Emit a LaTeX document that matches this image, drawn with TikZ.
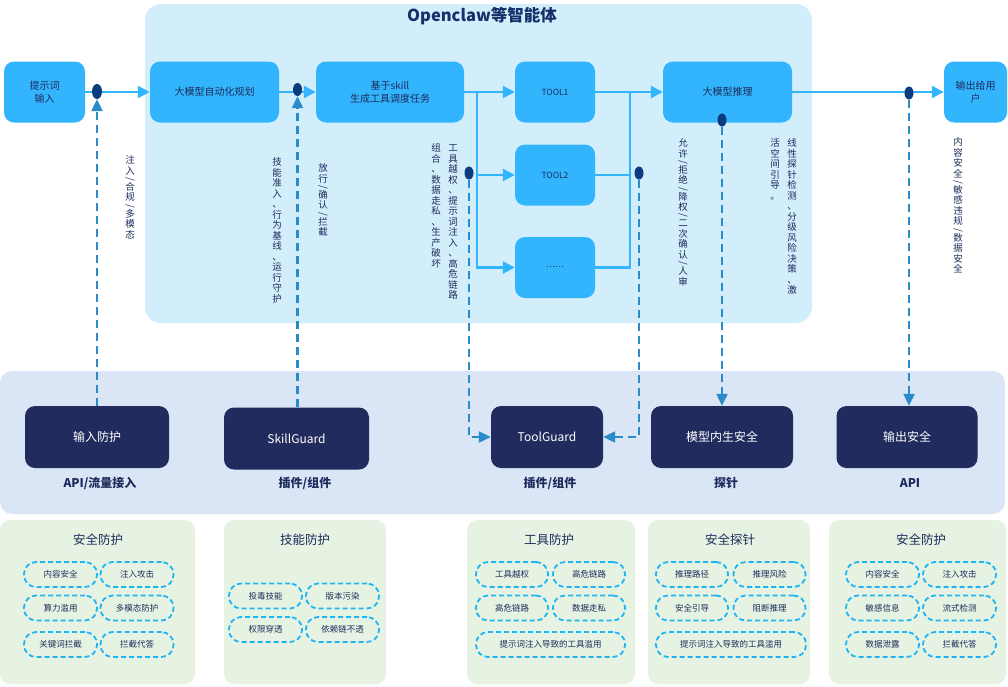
\documentclass[tikz,border=0pt]{standalone}
\usepackage{fontspec}
\setmainfont{Noto Sans CJK SC}
\usetikzlibrary{positioning, shapes.geometric, arrows.meta}

\definecolor{areablue}{HTML}{D3EEFB}
\definecolor{boxblue}{HTML}{33B5FD}
\definecolor{navytext}{HTML}{1C2B5C}
\definecolor{titlenavy}{HTML}{14306B}
\definecolor{dotnavy}{HTML}{0C3B7F}
\definecolor{probeblue}{HTML}{2A8BC9}
\definecolor{bandblue}{HTML}{DAE5F5}
\definecolor{guardnavy}{HTML}{212B5E}
\definecolor{panelgreen}{HTML}{E7F3E2}
\definecolor{pillblue}{HTML}{1FB4F5}

% vertical text, one glyph under the other
\makeatletter
\newcommand{\vsl}{\rotatebox[origin=c]{-90}{/}}
\def\vst@slash{\vsl}
\newcommand{\vstack}[1]{\vbox{\offinterlineskip
  \@tfor\vst@c:=#1\do{%
    \ifx\vst@c\vst@slash
      \hbox to 1em{\hss\vrule width 0pt height 3.5pt depth 1.5pt\raisebox{-2.3pt}{\vsl}\hss}%
    \else
      \hbox to 1em{\hss\vrule width 0pt height 8.3pt depth 2.2pt\vst@c\hss}%
    \fi}}}
\makeatother

\tikzset{
  heading/.style={font=\bfseries\fontsize{16.5}{19}\selectfont, text=titlenavy},
  bluebox/.style={rectangle, rounded corners=10pt, fill=boxblue, text=navytext, align=center,
    inner sep=0pt, font=\fontsize{10}{13}\selectfont},
  guardbox/.style={rectangle, rounded corners=10pt, fill=guardnavy, text=white, inner sep=0pt,
    minimum height=62pt, font=\fontsize{12}{14}\selectfont},
  tag/.style={font=\bfseries\fontsize{12}{14}\selectfont, text=navytext},
  flow/.style={draw=boxblue, line width=2.5pt, -{Triangle[length=12pt, width=12pt]}},
  flowline/.style={draw=boxblue, line width=2.5pt},
  probe/.style={draw=probeblue, line width=2.2pt, dash pattern=on 8pt off 5pt,
    -{Triangle[length=12pt, width=11pt]}},
  dot/.style={ellipse, fill=dotnavy, inner sep=0pt, minimum width=9pt, minimum height=13pt},
  vlab/.style={text=navytext, inner sep=0pt, anchor=north, font=\fontsize{9.5}{10.5}\selectfont},
  paneltitle/.style={text=navytext, font=\fontsize{12.5}{15}\selectfont},
  pill/.style={draw=pillblue, line width=1.8pt, dash pattern=on 5pt off 3pt, rounded corners=12pt,
    minimum height=25pt, inner sep=0pt, text=navytext, font=\fontsize{8.5}{10}\selectfont}
}

\begin{document}
\begin{tikzpicture}[x=1pt, y=-1pt]
\useasboundingbox (0,0) rectangle (1008,686);

% agent area
\fill[areablue, rounded corners=16pt] (145,4) rectangle (812,323);
\node[heading] (title) at (482,16) {Openclaw等智能体};

% guard band
\fill[bandblue, rounded corners=12pt] (0,371) rectangle (1005,514);

% defence panels
\fill[panelgreen, rounded corners=10pt] (0,520) rectangle (195,684);
\fill[panelgreen, rounded corners=10pt] (224,520) rectangle (386,684);
\fill[panelgreen, rounded corners=10pt] (467,520) rectangle (635,684);
\fill[panelgreen, rounded corners=10pt] (648,520) rectangle (810,684);
\fill[panelgreen, rounded corners=10pt] (829,520) rectangle (1006,684);

% main flow
\node[bluebox, minimum width=81pt, minimum height=61pt] (prompt) at (44.5,92) {提示词\\输入};
\node[bluebox, minimum width=129pt, minimum height=61pt] (plan) at (214.5,92) {大模型自动化规划};
\node[bluebox, minimum width=148pt, minimum height=61pt] (skill) at (390,92) {基于skill\\生成工具调度任务};
\node[bluebox, minimum width=80pt, minimum height=61pt, font=\fontsize{8.5}{10}\selectfont] (tool1) at (555,92) {TOOL1};
\node[bluebox, minimum width=80pt, minimum height=61pt, font=\fontsize{8.5}{10}\selectfont] (tool2) at (555,175) {TOOL2};
\node[bluebox, minimum width=80pt, minimum height=61pt, font=\fontsize{8.5}{10}\selectfont] (tool3) at (555,267.5) {……};
\node[bluebox, minimum width=129pt, minimum height=61pt] (infer) at (727.5,92) {大模型推理};
\node[bluebox, minimum width=63pt, minimum height=61pt] (output) at (975.5,92) {输出给用\\户};

% guards
\node[guardbox, minimum width=144pt] (ipguard) at (97,437) {输入防护};
\node[guardbox, minimum width=145pt] (skillguard) at (296.5,438.5) {SkillGuard};
\node[guardbox, minimum width=112pt] (toolguard) at (547,437) {ToolGuard};
\node[guardbox, minimum width=142pt] (modelguard) at (722,437) {模型内生安全};
\node[guardbox, minimum width=141pt] (outguard) at (907,437) {输出安全};

\node[tag] (tagip) at (100,483) {API/流量接入};
\node[tag] (tagskill) at (305,483) {插件/组件};
\node[tag] (tagtool) at (550,483) {插件/组件};
\node[tag] (tagmodel) at (726,483) {探针};
\node[tag] (tagout) at (910,483) {API};

% connectors
\coordinate (split) at (477,92);
\coordinate (join) at (630,92);
\draw[flow] (prompt) -- (plan);
\draw[flow] (plan) -- (skill);
\draw[flow] (skill) -- (tool1);
\draw[flow] (split) |- (tool2);
\draw[flow] (split) |- (tool3);
\draw[flowline] (tool2) -| (join);
\draw[flowline] (tool3) -| (join);
\draw[flow] (tool1) -- (infer);
\draw[flow] (infer) -- (output);

\node[dot, minimum width=10pt, minimum height=15pt] (d1) at (97,91.5) {};
\node[dot] (d2) at (297.5,89.5) {};
\node[dot] (d3) at (469,173) {};
\node[dot] (d4) at (639,173) {};
\node[dot] (d5) at (722,120) {};
\node[dot] (d6) at (909,93) {};

\draw[probe] (ipguard.north -| d1) -- (d1.south);
\draw[probe] (skillguard.north -| d2) -- (d2.south);
\draw[probe] (d3.south) |- (toolguard.west);
\draw[probe] (d4.south) |- (toolguard.east);
\draw[probe] (d5.south) -- (d5.south |- modelguard.north);
\draw[probe] (d6.south) -- (d6.south |- outguard.north);

% vertical notes
\node[vlab] (vin) at (130,155) {\vstack{注入{\vsl}合规{\vsl}多模态}};
\node[vlab] (vskill) at (277,157) {\vstack{技能准入、行为基线、运行守护}};
\node[vlab] (vpass) at (323,163) {\vstack{放行{\vsl}确认{\vsl}拦截}};
\node[vlab] (vtoola) at (453,143) {\vstack{工具越权、提示词注入、高危链路}};
\node[vlab] (vtoolb) at (436,143) {\vstack{组合、数据走私、生产破坏}};
\node[vlab] (vinfer) at (683,138) {\vstack{允许{\vsl}拒绝{\vsl}降权{\vsl}二次确认{\vsl}人审}};
\node[vlab] (vprobea) at (792,138) {\vstack{线性探针检测、分级风险决策、激}};
\node[vlab] (vprobeb) at (775,138) {\vstack{活空间引导。}};
\node[vlab] (vout) at (958,137) {\vstack{内容安全{\vsl}敏感违规{\vsl}数据安全}};

% panel 1
\node[paneltitle] (p1title) at (98,540) {安全防护};
\node[pill, minimum width=73pt] (p1a) at (60.5,574.5) {内容安全};
\node[pill, minimum width=73pt] (p1b) at (137,574.5) {注入攻击};
\node[pill, minimum width=73pt] (p1c) at (60.5,608) {算力滥用};
\node[pill, minimum width=73pt] (p1d) at (137,608) {多模态防护};
\node[pill, minimum width=73pt] (p1e) at (60.5,644.5) {关键词拦截};
\node[pill, minimum width=73pt] (p1f) at (137,644.5) {拦截代答};

% panel 2
\node[paneltitle] (p2title) at (305,540) {技能防护};
\node[pill, minimum width=73pt] (p2a) at (265.5,596) {投毒技能};
\node[pill, minimum width=73pt] (p2b) at (342.5,596) {版本污染};
\node[pill, minimum width=73pt] (p2c) at (265.5,629.5) {权限穿透};
\node[pill, minimum width=73pt] (p2d) at (342.5,629.5) {依赖链不透};

% panel 3
\node[paneltitle] (p3title) at (549,540) {工具防护};
\node[pill, minimum width=72pt] (p3a) at (512,574.5) {工具越权};
\node[pill, minimum width=72pt] (p3b) at (589,574.5) {高危链路};
\node[pill, minimum width=72pt] (p3c) at (512,608) {高危链路};
\node[pill, minimum width=72pt] (p3d) at (589,608) {数据走私};
\node[pill, minimum width=149pt] (p3e) at (550.5,644.5) {提示词注入导致的工具滥用};

% panel 4
\node[paneltitle] (p4title) at (730,540) {安全探针};
\node[pill, minimum width=72pt] (p4a) at (692,574.5) {推理路径};
\node[pill, minimum width=72pt] (p4b) at (769.5,574.5) {推理风险};
\node[pill, minimum width=72pt] (p4c) at (692,608) {安全引导};
\node[pill, minimum width=72pt] (p4d) at (769.5,608) {阻断推理};
\node[pill, minimum width=150pt] (p4e) at (731,644.5) {提示词注入导致的工具滥用};

% panel 5
\node[paneltitle] (p5title) at (921,540) {安全防护};
\node[pill, minimum width=73pt] (p5a) at (882.5,574.5) {内容安全};
\node[pill, minimum width=73pt] (p5b) at (959.5,574.5) {注入攻击};
\node[pill, minimum width=73pt] (p5c) at (882.5,608) {敏感信息};
\node[pill, minimum width=73pt] (p5d) at (959.5,608) {流式检测};
\node[pill, minimum width=73pt] (p5e) at (882.5,644.5) {数据泄露};
\node[pill, minimum width=73pt] (p5f) at (959.5,644.5) {拦截代答};
\end{tikzpicture}
\end{document}
